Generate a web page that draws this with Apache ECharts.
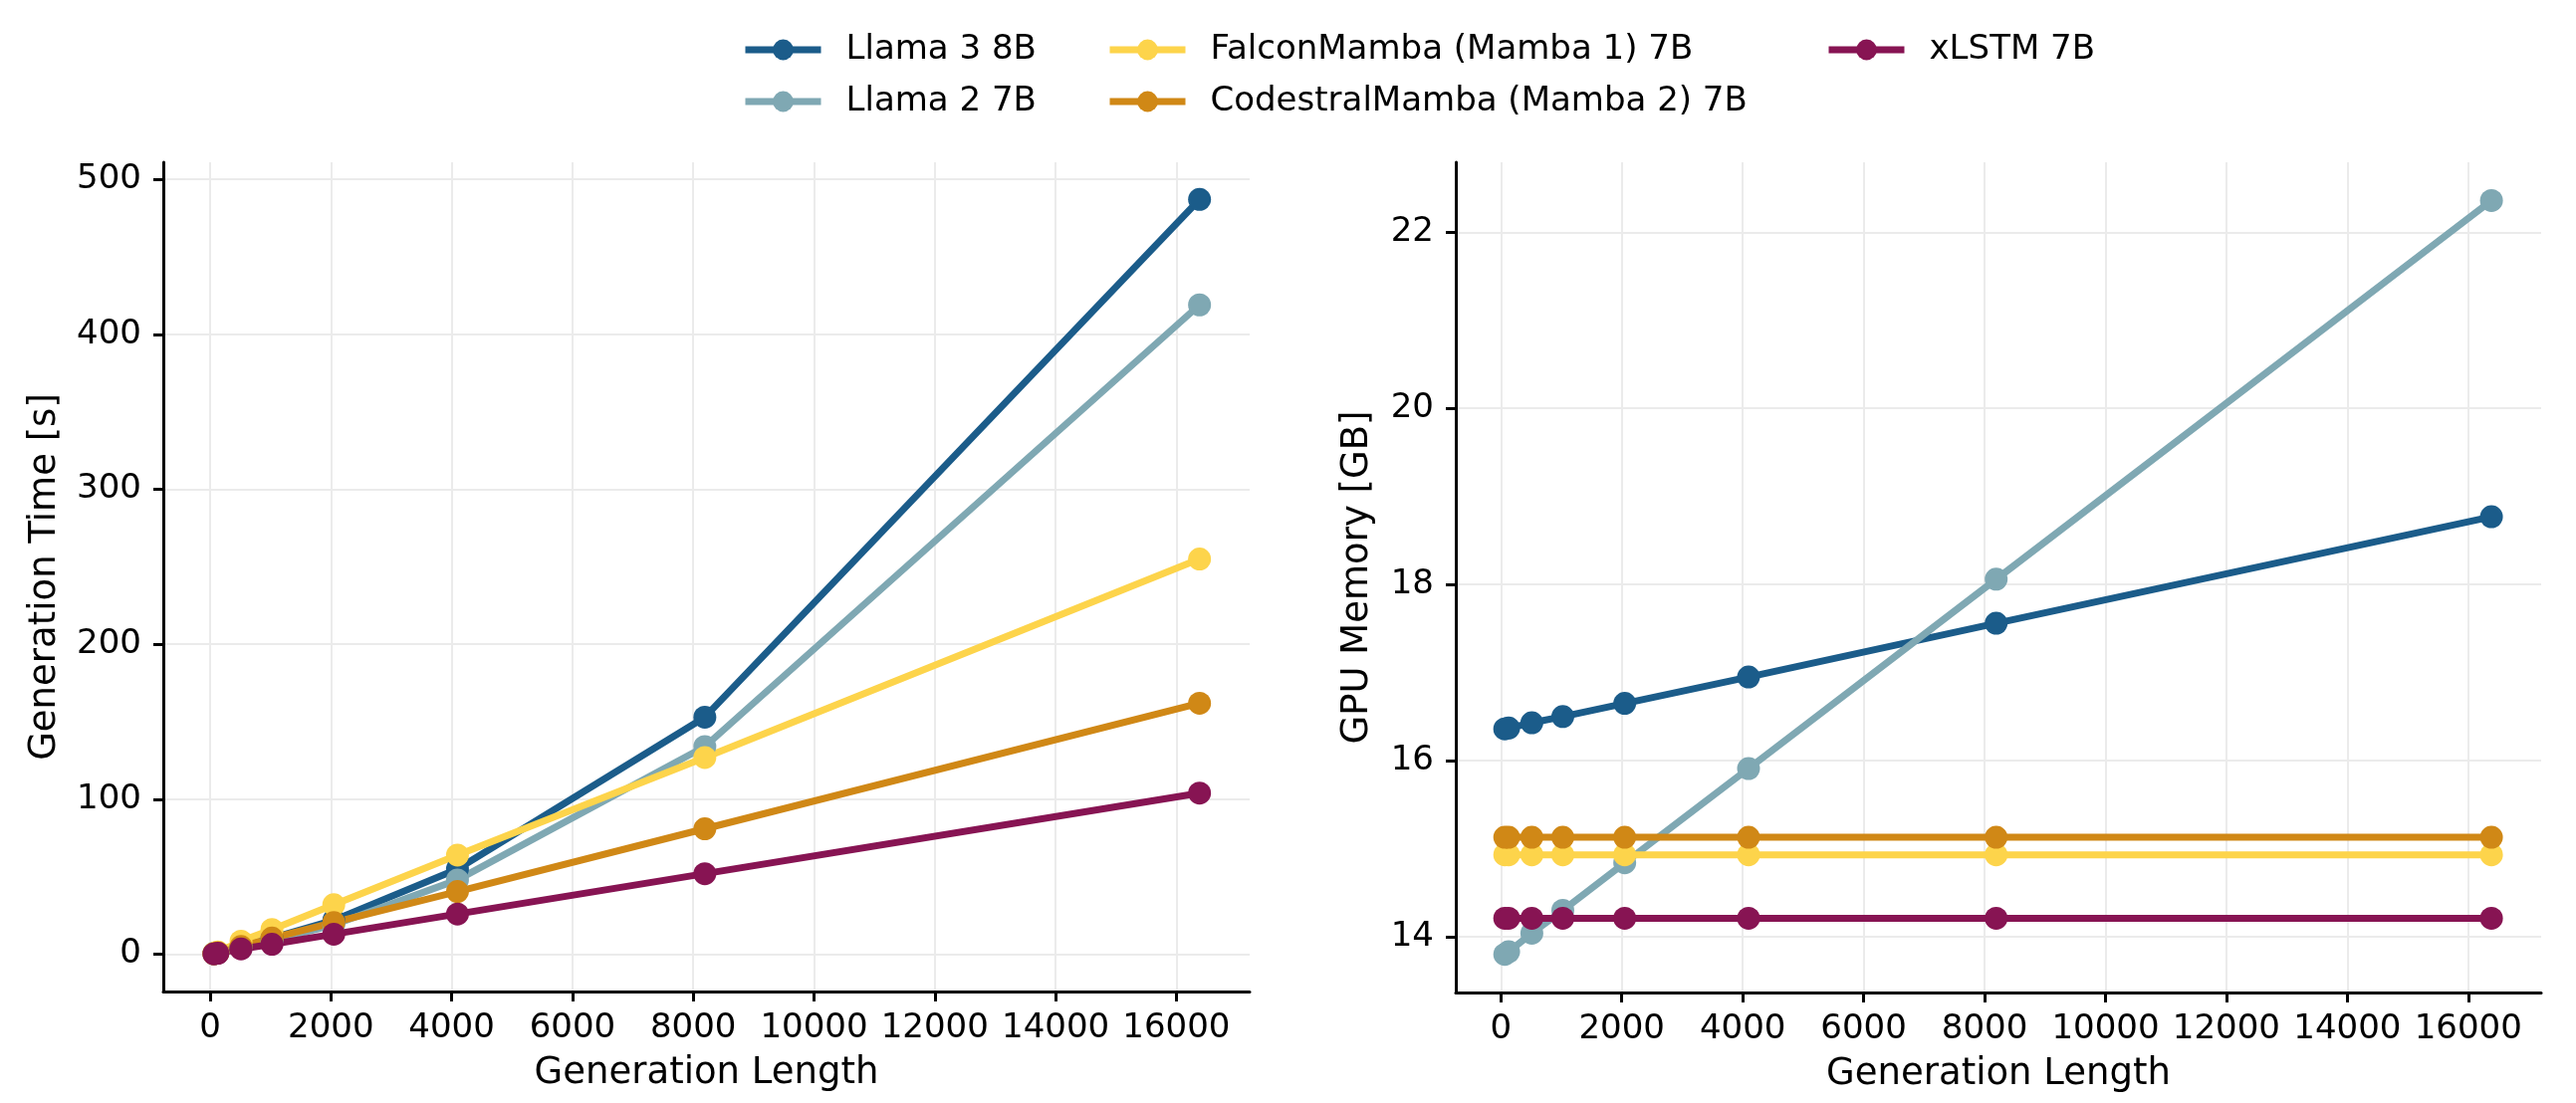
<!DOCTYPE html>
<html lang="en">
<head>
<meta charset="UTF-8" />
<script src="https://cdn.jsdelivr.net/npm/echarts@6/dist/echarts.min.js"></script>
<style>
  body { margin: 0; background: #fff; }
  #main { width: 2587px; height: 1108px; }
</style>
</head>
<body>
<div id="main"></div>
<script>
// generation lengths (x)
var genLength = [64, 128, 512, 1024, 2048, 4096, 8192, 16384];

// generation time [s]
var timeLlama3 = [0.5, 1.0, 5, 10.5, 22, 55, 153, 487];
var timeLlama2 = [0.4, 0.9, 4.5, 9, 19, 48, 134, 419];
var timeFalcon = [0.6, 1.5, 8.5, 16, 32, 64, 127, 255];
var timeCodestral = [0.4, 0.9, 5, 10.5, 20.5, 40.5, 81, 162];
var timeXlstm = [0.3, 0.7, 3.5, 6.5, 13, 26, 52, 104];

// GPU memory [GB]
var memLlama3 = [16.36, 16.37, 16.43, 16.5, 16.65, 16.95, 17.56, 18.77];
var memLlama2 = [13.8, 13.83, 14.04, 14.3, 14.84, 15.91, 18.06, 22.36];
var memFalcon = [14.93, 14.93, 14.93, 14.93, 14.93, 14.93, 14.93, 14.93];
var memCodestral = [15.13, 15.13, 15.13, 15.13, 15.13, 15.13, 15.13, 15.13];
var memXlstm = [14.21, 14.21, 14.21, 14.21, 14.21, 14.21, 14.21, 14.21];

// tick labels
var xTicks = [0, 2000, 4000, 6000, 8000, 10000, 12000, 14000, 16000];
var timeTicks = [0, 100, 200, 300, 400, 500];
var memTicks = [14, 16, 18, 20, 22];

var names = ['Llama 3 8B', 'Llama 2 7B', 'FalconMamba (Mamba 1) 7B', 'CodestralMamba (Mamba 2) 7B', 'xLSTM 7B'];
var colors = ['#1b5c8a', '#7fa8b3', '#fdd44b', '#d08816', '#871453'];

var font = 'DejaVu Sans';

function pairs(ys) {
  return genLength.map(function (x, i) { return [x, ys[i]]; });
}

function plain(v) { return String(v); }

function xAxis(idx, min, max) {
  return {
    type: 'value', gridIndex: idx, min: min, max: max,
    name: 'Generation Length', nameLocation: 'middle', nameGap: 64,
    nameTextStyle: { fontFamily: font, fontSize: 37, color: '#000' },
    axisLine: { show: true, onZero: false, lineStyle: { color: '#000', width: 3 } },
    axisTick: { show: true, length: 10, lineStyle: { color: '#000', width: 3 }, customValues: xTicks },
    axisLabel: { fontFamily: font, fontSize: 34, color: '#000', margin: 20, customValues: xTicks, formatter: plain },
    splitLine: { show: true, lineStyle: { color: '#ebebeb', width: 2 } }
  };
}

function yAxis(idx, min, max, ticks, name, gap) {
  return {
    type: 'value', gridIndex: idx, min: min, max: max,
    name: name, nameLocation: 'middle', nameGap: gap,
    nameTextStyle: { fontFamily: font, fontSize: 37, color: '#000' },
    axisLine: { show: true, onZero: false, lineStyle: { color: '#000', width: 3 } },
    axisTick: { show: true, length: 10, lineStyle: { color: '#000', width: 3 }, customValues: ticks },
    axisLabel: { fontFamily: font, fontSize: 34, color: '#000', margin: 22, customValues: ticks, formatter: plain },
    splitLine: { show: true, lineStyle: { color: '#ebebeb', width: 2 } }
  };
}

function line(i, ys, gi) {
  return {
    name: names[i], type: 'line', xAxisIndex: gi, yAxisIndex: gi,
    data: pairs(ys), symbol: 'circle', symbolSize: 23, showSymbol: true,
    color: colors[i],
    lineStyle: { width: 7, color: colors[i] },
    itemStyle: { color: colors[i] },
    animation: false
  };
}

function legend(left, data) {
  return {
    orient: 'vertical', left: left, top: 28, data: data,
    itemWidth: 76, itemHeight: 26, itemGap: 18,
    lineStyle: { width: 7 },
    textStyle: { fontFamily: font, fontSize: 34, color: '#000', lineHeight: 34, padding: [0, 0, 0, 20] }
  };
}

var myChart = echarts.init(document.getElementById('main'));
myChart.setOption({
  animation: false,
  legend: [
    legend(740, [names[0], names[1]]),
    legend(1106, [names[2], names[3]]),
    legend(1828, [names[4]])
  ],
  grid: [
    { left: 164, top: 163, width: 1091, height: 833 },
    { left: 1462, top: 163, width: 1090, height: 834 }
  ],
  xAxis: [xAxis(0, -775, 17214), xAxis(1, -746, 17206)],
  yAxis: [
    yAxis(0, -24, 511, timeTicks, 'Generation Time [s]', 100),
    yAxis(1, 13.367, 22.795, memTicks, 'GPU Memory [GB]', 80)
  ],
  series: [
    line(0, timeLlama3, 0), line(1, timeLlama2, 0), line(2, timeFalcon, 0), line(3, timeCodestral, 0), line(4, timeXlstm, 0),
    line(0, memLlama3, 1), line(1, memLlama2, 1), line(2, memFalcon, 1), line(3, memCodestral, 1), line(4, memXlstm, 1)
  ]
});
</script>
</body>
</html>
